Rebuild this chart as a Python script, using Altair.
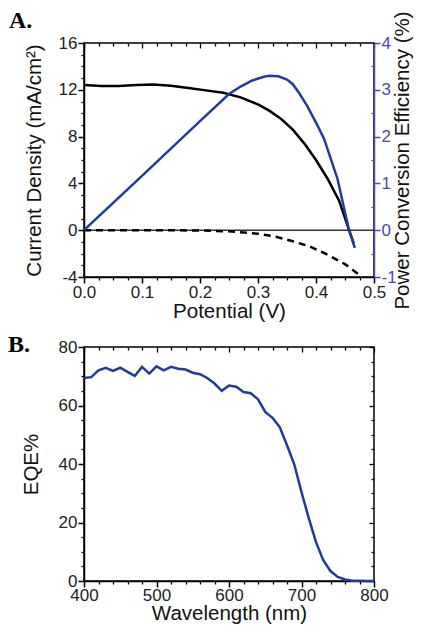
import altair as alt
import pandas as pd

# ---------------- Panel A data ----------------
v_light = [0.0, 0.03, 0.06, 0.09, 0.12, 0.15, 0.18, 0.21, 0.24, 0.27, 0.30, 0.32, 0.34,
           0.36, 0.38, 0.40, 0.42, 0.44, 0.457, 0.465]
j_light = [12.40, 12.32, 12.33, 12.42, 12.45, 12.35, 12.15, 11.95, 11.75, 11.35, 10.75,
           10.2, 9.5, 8.6, 7.4, 6.0, 4.4, 2.5, 0.0, -1.1]

v_dark = [0.0, 0.1, 0.2, 0.25, 0.30, 0.33, 0.36, 0.39, 0.42, 0.45, 0.474]
j_dark = [0.0, 0.0, -0.02, -0.1, -0.3, -0.55, -0.95, -1.4, -2.1, -2.9, -3.8]

v_pce = [0.0, 0.10, 0.20, 0.25, 0.27, 0.29, 0.31, 0.32, 0.335, 0.35, 0.36, 0.37,
         0.385, 0.40, 0.414, 0.437, 0.457, 0.467]
pce = [0.0, 1.16, 2.33, 2.91, 3.07, 3.2, 3.28, 3.30, 3.29, 3.22, 3.12, 2.95,
       2.65, 2.3, 1.95, 1.1, 0.0, -0.38]

# ---------------- Panel B data ----------------
wavelength = [400, 410, 420, 430, 440, 450, 460, 470, 480, 490, 500, 510, 520, 530, 540,
              550, 560, 570, 580, 590, 600, 610, 620, 630, 640, 650, 660, 670, 680, 690,
              700, 710, 720, 730, 740, 750, 760, 770, 780, 790, 800]
eqe = [69.4, 69.7, 72.0, 72.9, 71.8, 72.9, 71.5, 70.1, 73.2, 70.9, 73.4, 72.0, 73.2, 72.6,
       72.3, 71.2, 70.7, 69.4, 67.5, 65.0, 66.8, 66.4, 64.6, 64.2, 62.1, 57.8, 55.8, 52.6,
       46.4, 39.9, 30.4, 21.5, 13.3, 7.1, 3.4, 1.4, 0.5, 0.1, 0.05, 0.0, 0.0]

panel_labels = ["A.", "B."]

# ---------------- tick values ----------------
xa_major = [0.0, 0.1, 0.2, 0.3, 0.4, 0.5]
xa_minor = [0.025, 0.05, 0.075, 0.125, 0.15, 0.175, 0.225, 0.25, 0.275, 0.325, 0.35,
            0.375, 0.425, 0.45, 0.475]
ya_major = [-4, 0, 4, 8, 12, 16]
ya_minor = [-3, -2, -1, 1, 2, 3, 5, 6, 7, 9, 10, 11, 13, 14, 15]
pa_major = [-1, 0, 1, 2, 3, 4]
pa_minor = [-0.5, 0.5, 1.5, 2.5, 3.5]
xb_major = [400, 500, 600, 700, 800]
xb_minor = [420, 440, 460, 480, 520, 540, 560, 580, 620, 640, 660, 680, 720, 740, 760, 780]
yb_major = [0, 20, 40, 60, 80]
yb_minor = [5, 10, 15, 25, 30, 35, 45, 50, 55, 65, 70, 75]

FONT = "Liberation Sans"
BLUE = "#1f3c9c"
AXBLUE = "#4a4ab0"
HYPHEN = "replace(datum.label, '\u2212', '-')"

dfL = pd.DataFrame({"V": v_light, "J": j_light})
dfD = pd.DataFrame({"V": v_dark, "J": j_dark})
dfP = pd.DataFrame({"V": v_pce, "P": pce})
dfZ = pd.DataFrame({"J": [0]})
dfB = pd.DataFrame({"W": wavelength, "E": eqe})

xsA = alt.Scale(domain=[0, 0.5], nice=False, zero=False)
ysA = alt.Scale(domain=[-4, 16], nice=False, zero=False)
psA = alt.Scale(domain=[-1, 4], nice=False, zero=False)
xsB = alt.Scale(domain=[400, 800], nice=False, zero=False)
ysB = alt.Scale(domain=[0, 80], nice=False, zero=False)


def tick_axis(orient, values, size, inward=False, color="black"):
    kw = dict(orient=orient, values=values, labels=False, domain=False, tickSize=size,
              title=None, tickColor=color, tickWidth=1.3, grid=False,
              minExtent=0, maxExtent=size)
    if inward:
        kw["offset"] = -size
    return alt.Axis(**kw)


def ghost(df):
    return alt.Chart(df).mark_line(opacity=0, clip=True)


def panel_label(text, dx, dy):
    return alt.Chart(pd.DataFrame({"t": [text]})).mark_text(
        font="Liberation Serif", fontSize=24, fontWeight="bold", align="left",
        baseline="alphabetic", color="black"
    ).encode(text="t:N", x=alt.value(dx), y=alt.value(dy))


# ---------------- Panel A ----------------
lightA = alt.Chart(dfL).mark_line(color="black", strokeWidth=2.5).encode(
    x=alt.X("V:Q", scale=xsA, axis=alt.Axis(orient="bottom", values=xa_major, format=".1f",
                                             title="Potential (V)", tickSize=6, labelPadding=1,
                                             titlePadding=1, labelFlush=False)),
    y=alt.Y("J:Q", scale=ysA, axis=alt.Axis(orient="left", values=ya_major, labelExpr=HYPHEN,
                                             title="Current Density (mA/cm²)", tickSize=6,
                                             labelPadding=1, titlePadding=10, minExtent=30)),
)
darkA = alt.Chart(dfD).mark_line(color="black", strokeWidth=2.5, strokeDash=[7, 5]).encode(
    x=alt.X("V:Q", scale=xsA, axis=None),
    y=alt.Y("J:Q", scale=ysA, axis=None),
)
zeroA = alt.Chart(dfZ).mark_rule(color="#333333", strokeWidth=1.6).encode(
    y=alt.Y("J:Q", scale=ysA, axis=None),
)
pceA = alt.Chart(dfP).mark_line(color=BLUE, strokeWidth=2.5).encode(
    x=alt.X("V:Q", scale=xsA, axis=None),
    y=alt.Y("P:Q", scale=psA, axis=alt.Axis(orient="right", values=pa_major, tickSize=6,
                                             labelExpr=HYPHEN,
                                             labelPadding=1, labelColor=AXBLUE,
                                             domainColor=AXBLUE, tickColor=AXBLUE,
                                             title="Power Conversion Efficiency (%)",
                                             titleAngle=270, titlePadding=-4,
                                             titleBaseline="top", minExtent=0)),
)
ticksA1 = ghost(dfL).encode(
    x=alt.X("V:Q", scale=xsA, axis=tick_axis("bottom", xa_minor, 3)),
    y=alt.Y("J:Q", scale=ysA, axis=tick_axis("left", ya_minor, 3)),
)
ticksA2 = ghost(dfP).encode(
    x=alt.X("V:Q", scale=xsA, axis=tick_axis("top", xa_major, 5, inward=True)),
    y=alt.Y("P:Q", scale=psA, axis=tick_axis("right", pa_minor, 3, inward=True, color=AXBLUE)),
)
ticksA3 = ghost(dfL).encode(
    x=alt.X("V:Q", scale=xsA, axis=tick_axis("top", xa_minor, 3, inward=True)),
    y=alt.Y("J:Q", scale=ysA, axis=None),
)

panelA = alt.layer(
    ticksA1, ticksA2, ticksA3, zeroA, darkA, lightA, pceA, panel_label(panel_labels[0], -75, -15)
).resolve_scale(x="independent", y="independent").properties(width=290, height=234)

# ---------------- Panel B ----------------
eqeB = alt.Chart(dfB).mark_line(color=BLUE, strokeWidth=2.5).encode(
    x=alt.X("W:Q", scale=xsB, axis=alt.Axis(orient="bottom", values=xb_major,
                                             title="Wavelength (nm)", tickSize=6,
                                             labelPadding=0, titlePadding=0, labelFlush=False)),
    y=alt.Y("E:Q", scale=ysB, axis=alt.Axis(orient="left", values=yb_major, title="EQE%",
                                             tickSize=6, labelPadding=1, titlePadding=13,
                                             minExtent=30)),
)
ticksB1 = ghost(dfB).encode(
    x=alt.X("W:Q", scale=xsB, axis=tick_axis("bottom", xb_minor, 3)),
    y=alt.Y("E:Q", scale=ysB, axis=tick_axis("left", yb_minor, 3)),
)
ticksB2 = ghost(dfB).encode(
    x=alt.X("W:Q", scale=xsB, axis=tick_axis("top", xb_major, 5, inward=True)),
    y=alt.Y("E:Q", scale=ysB, axis=tick_axis("right", yb_major, 5, inward=True)),
)
ticksB3 = ghost(dfB).encode(
    x=alt.X("W:Q", scale=xsB, axis=tick_axis("top", xb_minor, 3, inward=True)),
    y=alt.Y("E:Q", scale=ysB, axis=tick_axis("right", yb_minor, 3, inward=True)),
)

panelB = alt.layer(
    ticksB1, ticksB2, ticksB3, eqeB, panel_label(panel_labels[1], -76, 5)
).resolve_scale(x="independent", y="independent").properties(width=290, height=234)

chart = alt.concat(panelA, panelB, columns=1, spacing=9, align="each").properties(
    padding={"left": -1, "top": 0, "right": 0, "bottom": -1},
    background="white",
).configure_view(
    stroke="black", strokeWidth=1.5
).configure_axis(
    grid=False, labelFont=FONT, labelFontSize=17, labelColor="#222222",
    titleFont=FONT, titleFontSize=20.5, titleFontWeight="normal", titleColor="#111111",
    domainColor="black", domainWidth=1.5, tickColor="black", tickWidth=1.5,
)

chart.save("out.html", embed_options={"renderer": "svg", "actions": False})
